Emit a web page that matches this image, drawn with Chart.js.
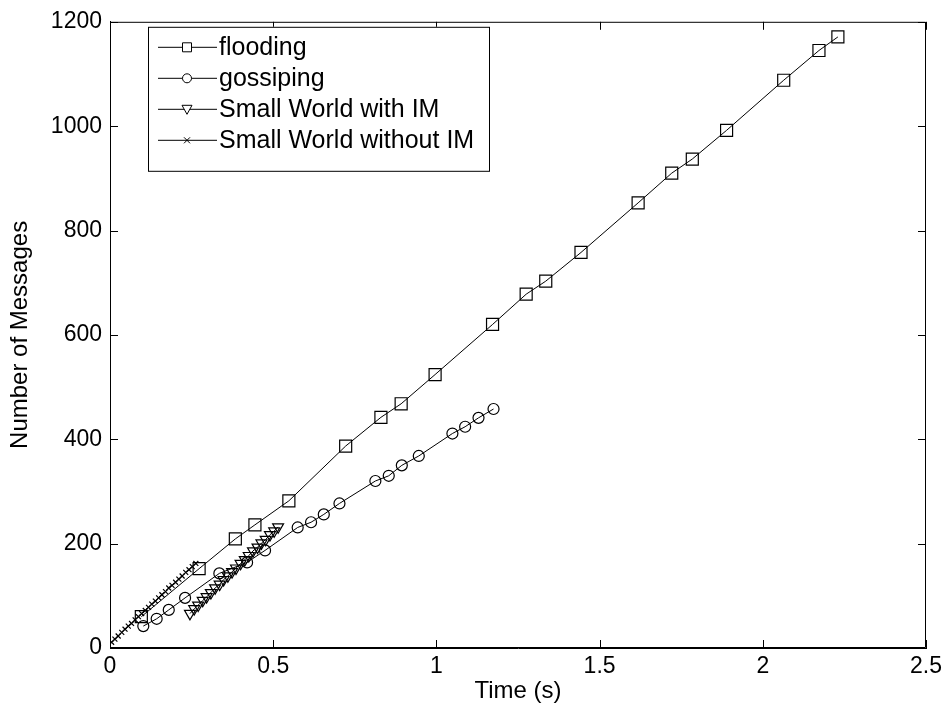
<!DOCTYPE html>
<html>
<head>
<meta charset="utf-8">
<script src="https://cdn.jsdelivr.net/npm/chart.js@4.4.0/dist/chart.umd.min.js"></script>
<style>
  html, body { margin: 0; padding: 0; background: #fff; }
  canvas { display: block; }
</style>
</head>
<body>
<canvas id="chart" width="947" height="713"></canvas>
<script>
const xTicks = [0, 0.5, 1, 1.5, 2, 2.5];
const yTicks = [0, 200, 400, 600, 800, 1000, 1200];

const seriesNames = ["flooding", "gossiping", "Small World with IM", "Small World without IM"];

const floodX = [0.096, 0.273, 0.384, 0.444, 0.548, 0.722, 0.830, 0.892, 0.996, 1.172, 1.275, 1.335, 1.443, 1.618, 1.721, 1.784, 1.889, 2.064, 2.172, 2.230];
const floodY = [60, 152, 209, 236, 282, 387, 442, 468, 524, 620, 678, 703, 758, 853, 910, 937, 992, 1088, 1145, 1171];

const gossipX = [0.102, 0.143, 0.180, 0.230, 0.335, 0.420, 0.475, 0.575, 0.616, 0.655, 0.703, 0.813, 0.854, 0.894, 0.946, 1.049, 1.088, 1.129, 1.175];
const gossipY = [42, 56, 73, 96, 143, 164, 187, 231, 241, 256, 277, 320, 330, 350, 368, 411, 424, 441, 458];

const swImX = [0.245, 0.258, 0.270, 0.284, 0.296, 0.309, 0.322, 0.336, 0.348, 0.361, 0.374, 0.386, 0.400, 0.413, 0.425, 0.438, 0.452, 0.464, 0.477, 0.490, 0.503, 0.515];
const swImY = [66, 75, 82, 91, 98, 106, 115, 122, 131, 138, 146, 153, 162, 169, 177, 186, 193, 201, 208, 217, 224, 232];

const swNoImX = [0.005, 0.015, 0.025, 0.036, 0.046, 0.056, 0.066, 0.077, 0.087, 0.097, 0.108, 0.118, 0.128, 0.139, 0.149, 0.159, 0.170, 0.180, 0.190, 0.201, 0.211, 0.221, 0.232, 0.242, 0.252, 0.263];
const swNoImY = [11, 17, 23, 30, 36, 42, 47, 54, 60, 66, 72, 78, 84, 90, 96, 102, 108, 115, 120, 126, 132, 138, 145, 150, 156, 162];

const FONT = "'Liberation Sans', Arial, Helvetica, sans-serif";

function pts(xs, ys) {
  return xs.map((x, i) => ({ x: x, y: ys[i] }));
}

function series(label, xs, ys, style, radius, rotation) {
  return {
    label: label,
    data: pts(xs, ys),
    borderColor: "#000",
    borderWidth: 1,
    pointStyle: style,
    pointRadius: radius,
    pointRotation: rotation || 0,
    pointBorderColor: "#000",
    pointBorderWidth: 1.2,
    pointBackgroundColor: "rgba(0,0,0,0)",
    fill: false,
    tension: 0
  };
}

// frame on top/right and inward tick marks like matlab
const framePlugin = {
  id: "frame",
  afterDraw(chart) {
    const { ctx, chartArea: a, scales } = chart;
    const len = 8;
    ctx.save();
    ctx.strokeStyle = "#000";
    ctx.lineWidth = 1;
    ctx.beginPath();
    ctx.rect(a.left + 0.5, a.top + 0.5, a.right - a.left - 1, a.bottom - a.top - 1);
    xTicks.forEach(v => {
      const px = Math.round(scales.x.getPixelForValue(v)) + 0.5;
      ctx.moveTo(px, a.bottom); ctx.lineTo(px, a.bottom - len);
      ctx.moveTo(px, a.top); ctx.lineTo(px, a.top + len);
    });
    yTicks.forEach(v => {
      const py = Math.round(scales.y.getPixelForValue(v)) + 0.5;
      ctx.moveTo(a.left, py); ctx.lineTo(a.left + len, py);
      ctx.moveTo(a.right, py); ctx.lineTo(a.right - len, py);
    });
    ctx.stroke();
    ctx.restore();
  }
};

function legendMarker(ctx, style, x, y) {
  ctx.beginPath();
  if (style === "rect") {
    ctx.rect(x - 4.5, y - 4.5, 9, 9);
  } else if (style === "circle") {
    ctx.arc(x, y, 4.5, 0, Math.PI * 2);
  } else if (style === "triangle") {
    ctx.moveTo(x - 5, y - 4); ctx.lineTo(x + 5, y - 4); ctx.lineTo(x, y + 5); ctx.closePath();
  } else {
    ctx.moveTo(x - 3, y - 3); ctx.lineTo(x + 3, y + 3);
    ctx.moveTo(x + 3, y - 3); ctx.lineTo(x - 3, y + 3);
  }
  ctx.fillStyle = "#fff";
  ctx.fill();
  ctx.stroke();
}

const legendPlugin = {
  id: "boxLegend",
  afterDraw(chart) {
    const { ctx, chartArea: a } = chart;
    const left = a.left + 38, top = a.top + 5, w = 341, h = 144;
    const styles = ["rect", "circle", "triangle", "cross"];
    ctx.save();
    ctx.fillStyle = "#fff";
    ctx.fillRect(left, top, w, h);
    ctx.strokeStyle = "#000";
    ctx.lineWidth = 1;
    ctx.strokeRect(left + 0.5, top + 0.5, w, h);
    ctx.font = "25px " + FONT;
    ctx.textBaseline = "middle";
    seriesNames.forEach((name, i) => {
      const y = top + 20 + i * 31;
      ctx.strokeStyle = "#000";
      ctx.beginPath();
      ctx.moveTo(left + 10, y + 0.5); ctx.lineTo(left + 69, y + 0.5);
      ctx.stroke();
      legendMarker(ctx, styles[i], left + 39, y + 0.5);
      ctx.fillStyle = "#000";
      ctx.fillText(name, left + 71, y + 1);
    });
    ctx.restore();
  }
};

new Chart(document.getElementById("chart"), {
  type: "line",
  data: {
    datasets: [
      series(seriesNames[0], floodX, floodY, "rect", 8.5),
      series(seriesNames[1], gossipX, gossipY, "circle", 5.5),
      series(seriesNames[2], swImX, swImY, "triangle", 6.3, 180),
      series(seriesNames[3], swNoImX, swNoImY, "crossRot", 3.5)
    ]
  },
  options: {
    responsive: false,
    animation: false,
    layout: { padding: { top: 18, right: 19, left: 0, bottom: 0 } },
    plugins: {
      legend: { display: false },
      tooltip: { enabled: false }
    },
    scales: {
      x: {
        type: "linear",
        min: 0,
        max: 2.5,
        afterBuildTicks: s => { s.ticks = xTicks.map(v => ({ value: v })); },
        afterFit: s => { s.height = 65; },
        grid: { display: false, drawTicks: false },
        border: { display: true, color: "#000", width: 1 },
        ticks: { color: "#000", padding: 5, maxRotation: 0, callback: v => String(v), font: { family: FONT, size: 23 } },
        title: { display: true, text: "Time (s)", color: "#000", padding: { top: 0, bottom: 7 }, font: { family: FONT, size: 24 } }
      },
      y: {
        type: "linear",
        min: 0,
        max: 1200,
        afterBuildTicks: s => { s.ticks = yTicks.map(v => ({ value: v })); },
        afterFit: s => { s.width = 110; },
        grid: { display: false, drawTicks: false },
        border: { display: true, color: "#000", width: 1 },
        ticks: { color: "#000", padding: 8, callback: v => String(v), font: { family: FONT, size: 23 } },
        title: { display: true, text: "Number of Messages", color: "#000", padding: { top: 6, bottom: 0 }, font: { family: FONT, size: 24 } }
      }
    }
  },
  plugins: [framePlugin, legendPlugin]
});
</script>
</body>
</html>
